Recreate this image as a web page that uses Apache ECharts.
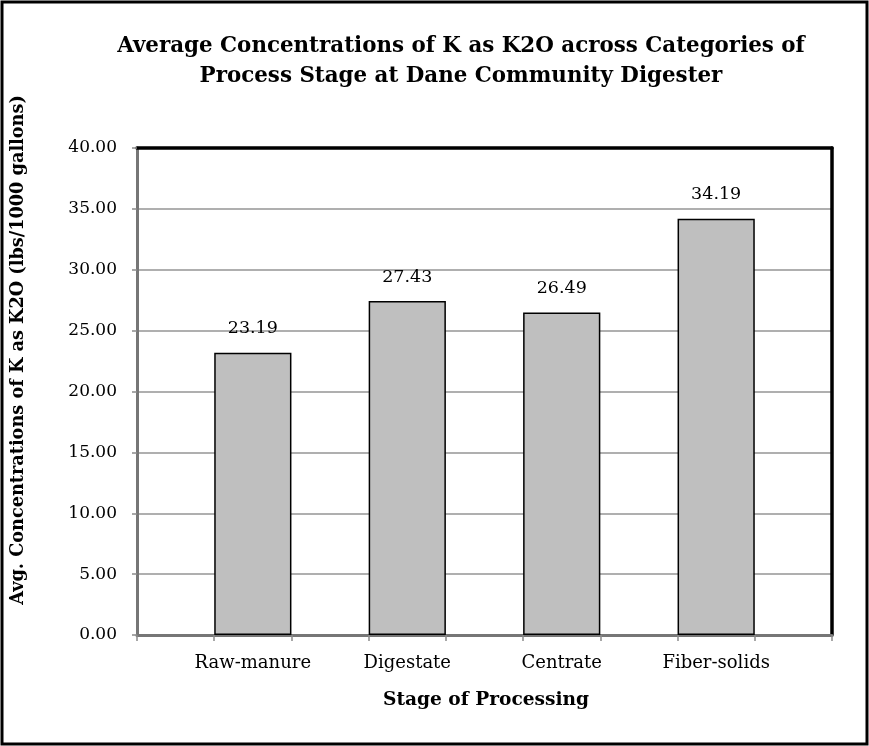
<!DOCTYPE html>
<html>
<head>
<meta charset="utf-8">
<script src="https://cdn.jsdelivr.net/npm/echarts@6/dist/echarts.min.js"></script>
<style>
html,body{margin:0;padding:0;background:#fff;}
#chart{width:869px;height:746px;}
</style>
</head>
<body>
<div id="chart"></div>
<script>
const categories = ['Raw-manure', 'Digestate', 'Centrate', 'Fiber-solids'];
const values = [23.19, 27.43, 26.49, 34.19];
const yTicks = [0, 5, 10, 15, 20, 25, 30, 35, 40];
const titleText = 'Average Concentrations of K as K2O across Categories of\nProcess Stage at Dane Community Digester';
const yName = 'Avg. Concentrations of K as K2O (lbs/1000 gallons)';
const xName = 'Stage of Processing';

const FONT = 'DejaVu Serif';
const chart = echarts.init(document.getElementById('chart'), null, {renderer: 'canvas'});

const plotLeft = 137, plotTop = 148, plotW = 695, plotH = 487;
const unit = plotW / 9;
const barGridLeft = plotLeft + unit / 2;
const barGridW = unit * 8;

chart.setOption({
  backgroundColor: '#fff',
  animation: false,
  title: {
    text: titleText,
    left: 456,
    top: 26,
    textAlign: 'center',
    textStyle: {fontFamily: FONT, fontWeight: 'bold', fontSize: 21.4, lineHeight: 30, color: '#000'}
  },
  graphic: [
    {type: 'rect', shape: {x: 2, y: 2, width: 865, height: 742}, style: {fill: null, stroke: '#000', lineWidth: 3}, z: 100},
    {type: 'text', x: 18, y: 350, rotation: Math.PI / 2,
     style: {text: yName, fontFamily: FONT, fontWeight: 'bold', fontSize: 17.7, fill: '#000', align: 'center', verticalAlign: 'middle'}},
    {type: 'text', x: 486, y: 700,
     style: {text: xName, fontFamily: FONT, fontWeight: 'bold', fontSize: 18.6, fill: '#000', align: 'center', verticalAlign: 'middle'}}
  ],
  grid: [
    {left: plotLeft, top: plotTop, width: plotW, height: plotH, containLabel: false},
    {left: barGridLeft, top: plotTop, width: barGridW, height: plotH, containLabel: false}
  ],
  xAxis: [
    {gridIndex: 0, type: 'value', min: 0, max: 9, interval: 1, position: 'bottom',
     axisLine: {show: true, lineStyle: {color: '#767676', width: 3}},
     axisTick: {show: true, length: 6, lineStyle: {color: '#8a8a8a', width: 1.5}},
     axisLabel: {show: false}, splitLine: {show: false}},
    {gridIndex: 0, type: 'value', min: 0, max: 9, position: 'top',
     axisLine: {show: true, onZero: false, lineStyle: {color: '#000', width: 3.5}},
     axisTick: {show: false}, axisLabel: {show: false}, splitLine: {show: false}},
    {gridIndex: 1, type: 'category', data: categories, position: 'bottom',
     axisLine: {show: false}, axisTick: {show: false},
     axisLabel: {fontFamily: FONT, fontSize: 18, color: '#000', margin: 19}}
  ],
  yAxis: [
    {gridIndex: 0, type: 'value', min: yTicks[0], max: yTicks[yTicks.length - 1], interval: yTicks[1] - yTicks[0],
     axisLine: {show: true, lineStyle: {color: '#767676', width: 3}},
     axisTick: {show: true, length: 5, lineStyle: {color: '#8a8a8a', width: 1.5}},
     axisLabel: {fontFamily: FONT, fontSize: 17, color: '#000', margin: 20, formatter: v => v.toFixed(2)},
     splitLine: {show: true, showMaxLine: false, showMinLine: false, lineStyle: {color: '#959595', width: 1.5}}},
    {gridIndex: 0, type: 'value', min: 0, max: 40, position: 'right',
     axisLine: {show: true, onZero: false, lineStyle: {color: '#000', width: 3.5}},
     axisTick: {show: false}, axisLabel: {show: false}, splitLine: {show: false}},
    {gridIndex: 1, type: 'value', min: 0, max: 40, show: false}
  ],
  series: [{
    type: 'bar',
    xAxisIndex: 2,
    yAxisIndex: 2,
    data: values,
    barWidth: '50%',
    itemStyle: {color: '#bfbfbf', borderColor: '#000', borderWidth: 1.5},
    label: {show: true, position: 'top', distance: 15, fontFamily: FONT, fontSize: 17.5, color: '#000',
            formatter: p => p.value.toFixed(2)},
    z: 3
  }]
});
</script>
</body>
</html>
